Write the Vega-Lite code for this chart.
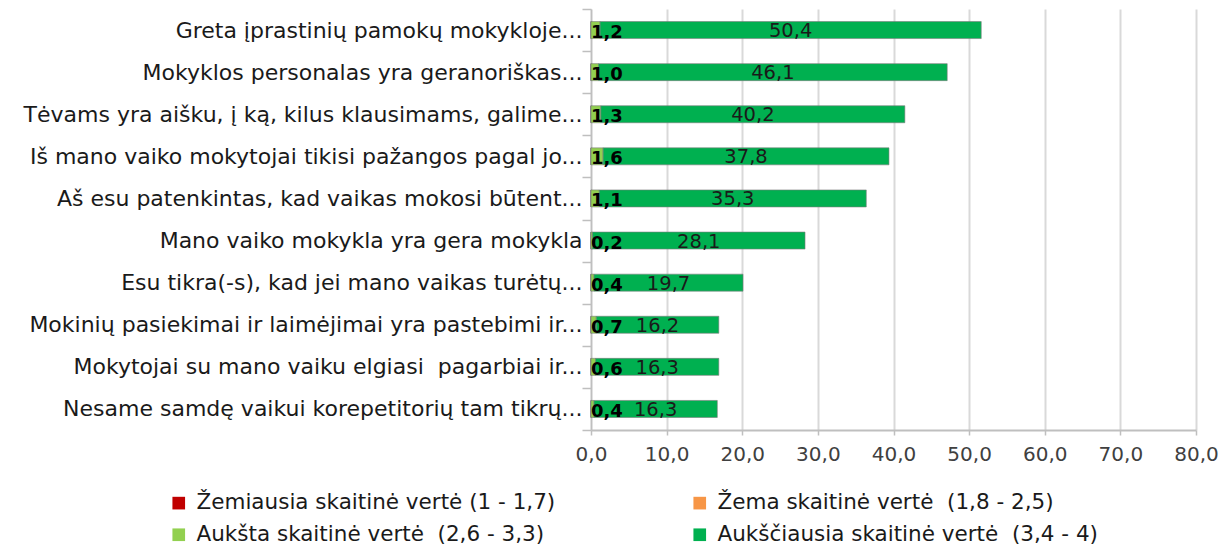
{
  "$schema": "https://vega.github.io/schema/vega-lite/v6.json",
  "width": 605,
  "height": 421,
  "autosize": {"type": "none"},
  "padding": {"left": 591, "top": 9, "right": 27, "bottom": 118},
  "background": "white",
  "data": {"values": [
    {"q": "Greta įprastinių pamokų mokykloje...", "s": "Žemiausia skaitinė vertė (1 - 1,7)", "v": 0},
    {"q": "Greta įprastinių pamokų mokykloje...", "s": "Žema skaitinė vertė\u00a0 (1,8 - 2,5)", "v": 0},
    {"q": "Greta įprastinių pamokų mokykloje...", "s": "Aukšta skaitinė vertė\u00a0 (2,6 - 3,3)", "v": 1.2},
    {"q": "Greta įprastinių pamokų mokykloje...", "s": "Aukščiausia skaitinė vertė\u00a0 (3,4 - 4)", "v": 50.4},
    {"q": "Mokyklos personalas yra geranoriškas...", "s": "Žemiausia skaitinė vertė (1 - 1,7)", "v": 0},
    {"q": "Mokyklos personalas yra geranoriškas...", "s": "Žema skaitinė vertė\u00a0 (1,8 - 2,5)", "v": 0},
    {"q": "Mokyklos personalas yra geranoriškas...", "s": "Aukšta skaitinė vertė\u00a0 (2,6 - 3,3)", "v": 1.0},
    {"q": "Mokyklos personalas yra geranoriškas...", "s": "Aukščiausia skaitinė vertė\u00a0 (3,4 - 4)", "v": 46.1},
    {"q": "Tėvams yra aišku, į ką, kilus klausimams, galime...", "s": "Žemiausia skaitinė vertė (1 - 1,7)", "v": 0},
    {"q": "Tėvams yra aišku, į ką, kilus klausimams, galime...", "s": "Žema skaitinė vertė\u00a0 (1,8 - 2,5)", "v": 0},
    {"q": "Tėvams yra aišku, į ką, kilus klausimams, galime...", "s": "Aukšta skaitinė vertė\u00a0 (2,6 - 3,3)", "v": 1.3},
    {"q": "Tėvams yra aišku, į ką, kilus klausimams, galime...", "s": "Aukščiausia skaitinė vertė\u00a0 (3,4 - 4)", "v": 40.2},
    {"q": "Iš mano vaiko mokytojai tikisi pažangos pagal jo...", "s": "Žemiausia skaitinė vertė (1 - 1,7)", "v": 0},
    {"q": "Iš mano vaiko mokytojai tikisi pažangos pagal jo...", "s": "Žema skaitinė vertė\u00a0 (1,8 - 2,5)", "v": 0},
    {"q": "Iš mano vaiko mokytojai tikisi pažangos pagal jo...", "s": "Aukšta skaitinė vertė\u00a0 (2,6 - 3,3)", "v": 1.6},
    {"q": "Iš mano vaiko mokytojai tikisi pažangos pagal jo...", "s": "Aukščiausia skaitinė vertė\u00a0 (3,4 - 4)", "v": 37.8},
    {"q": "Aš esu patenkintas, kad vaikas mokosi būtent...", "s": "Žemiausia skaitinė vertė (1 - 1,7)", "v": 0},
    {"q": "Aš esu patenkintas, kad vaikas mokosi būtent...", "s": "Žema skaitinė vertė\u00a0 (1,8 - 2,5)", "v": 0},
    {"q": "Aš esu patenkintas, kad vaikas mokosi būtent...", "s": "Aukšta skaitinė vertė\u00a0 (2,6 - 3,3)", "v": 1.1},
    {"q": "Aš esu patenkintas, kad vaikas mokosi būtent...", "s": "Aukščiausia skaitinė vertė\u00a0 (3,4 - 4)", "v": 35.3},
    {"q": "Mano vaiko mokykla yra gera mokykla\u00a0\u00a0\u00a0", "s": "Žemiausia skaitinė vertė (1 - 1,7)", "v": 0},
    {"q": "Mano vaiko mokykla yra gera mokykla\u00a0\u00a0\u00a0", "s": "Žema skaitinė vertė\u00a0 (1,8 - 2,5)", "v": 0},
    {"q": "Mano vaiko mokykla yra gera mokykla\u00a0\u00a0\u00a0", "s": "Aukšta skaitinė vertė\u00a0 (2,6 - 3,3)", "v": 0.2},
    {"q": "Mano vaiko mokykla yra gera mokykla\u00a0\u00a0\u00a0", "s": "Aukščiausia skaitinė vertė\u00a0 (3,4 - 4)", "v": 28.1},
    {"q": "Esu tikra(-s), kad jei mano vaikas turėtų...", "s": "Žemiausia skaitinė vertė (1 - 1,7)", "v": 0},
    {"q": "Esu tikra(-s), kad jei mano vaikas turėtų...", "s": "Žema skaitinė vertė\u00a0 (1,8 - 2,5)", "v": 0},
    {"q": "Esu tikra(-s), kad jei mano vaikas turėtų...", "s": "Aukšta skaitinė vertė\u00a0 (2,6 - 3,3)", "v": 0.4},
    {"q": "Esu tikra(-s), kad jei mano vaikas turėtų...", "s": "Aukščiausia skaitinė vertė\u00a0 (3,4 - 4)", "v": 19.7},
    {"q": "Mokinių pasiekimai ir laimėjimai yra pastebimi ir...", "s": "Žemiausia skaitinė vertė (1 - 1,7)", "v": 0},
    {"q": "Mokinių pasiekimai ir laimėjimai yra pastebimi ir...", "s": "Žema skaitinė vertė\u00a0 (1,8 - 2,5)", "v": 0},
    {"q": "Mokinių pasiekimai ir laimėjimai yra pastebimi ir...", "s": "Aukšta skaitinė vertė\u00a0 (2,6 - 3,3)", "v": 0.7},
    {"q": "Mokinių pasiekimai ir laimėjimai yra pastebimi ir...", "s": "Aukščiausia skaitinė vertė\u00a0 (3,4 - 4)", "v": 16.2},
    {"q": "Mokytojai su mano vaiku elgiasi\u00a0 pagarbiai ir...", "s": "Žemiausia skaitinė vertė (1 - 1,7)", "v": 0},
    {"q": "Mokytojai su mano vaiku elgiasi\u00a0 pagarbiai ir...", "s": "Žema skaitinė vertė\u00a0 (1,8 - 2,5)", "v": 0},
    {"q": "Mokytojai su mano vaiku elgiasi\u00a0 pagarbiai ir...", "s": "Aukšta skaitinė vertė\u00a0 (2,6 - 3,3)", "v": 0.6},
    {"q": "Mokytojai su mano vaiku elgiasi\u00a0 pagarbiai ir...", "s": "Aukščiausia skaitinė vertė\u00a0 (3,4 - 4)", "v": 16.3},
    {"q": "Nesame samdę vaikui korepetitorių tam tikrų...", "s": "Žemiausia skaitinė vertė (1 - 1,7)", "v": 0},
    {"q": "Nesame samdę vaikui korepetitorių tam tikrų...", "s": "Žema skaitinė vertė\u00a0 (1,8 - 2,5)", "v": 0},
    {"q": "Nesame samdę vaikui korepetitorių tam tikrų...", "s": "Aukšta skaitinė vertė\u00a0 (2,6 - 3,3)", "v": 0.4},
    {"q": "Nesame samdę vaikui korepetitorių tam tikrų...", "s": "Aukščiausia skaitinė vertė\u00a0 (3,4 - 4)", "v": 16.3}
  ]},
  "transform": [
    {"calculate": "indexof(['Žemiausia skaitinė vertė (1 - 1,7)','Žema skaitinė vertė\u00a0 (1,8 - 2,5)','Aukšta skaitinė vertė\u00a0 (2,6 - 3,3)','Aukščiausia skaitinė vertė\u00a0 (3,4 - 4)'], datum.s)", "as": "ord"},
    {"stack": "v", "groupby": ["q"], "sort": [{"field": "ord", "order": "ascending"}], "as": ["v0", "v1"]},
    {"calculate": "(datum.v0 + datum.v1) / 2", "as": "mid"},
    {"calculate": "replace(format(datum.v, '.1f'), '.', ',')", "as": "lbl"}
  ],
  "encoding": {
    "y": {
      "field": "q",
      "type": "nominal",
      "sort": null,
      "title": null,
      "scale": {"paddingInner": 0, "paddingOuter": 0},
      "axis": {
        "labelFont": "DejaVu Sans",
        "labelFontSize": 22,
        "labelColor": "#1a1a1a",
        "labelLimit": 600,
        "labelPadding": 0,
        "tickBand": "extent",
        "tickSize": 9,
        "tickColor": "#bfbfbf",
        "tickWidth": 1.5,
        "domainColor": "#bfbfbf",
        "domainWidth": 1.5,
        "grid": false
      }
    }
  },
  "layer": [
    {
      "mark": {"type": "bar", "size": 17, "stroke": "#7a7a7a", "strokeWidth": 0.6},
      "encoding": {
        "x": {
          "field": "v0",
          "type": "quantitative",
          "scale": {"domain": [0, 80]},
          "title": null,
          "axis": {
            "values": [0, 10, 20, 30, 40, 50, 60, 70, 80],
            "labelExpr": "replace(format(datum.value, '.1f'), '.', ',')",
            "labelFlush": false,
            "labelOverlap": false,
            "labelFont": "DejaVu Sans",
            "labelFontSize": 20,
            "labelColor": "#404040",
            "labelPadding": 9,
            "grid": true,
            "gridColor": "#d9d9d9",
            "gridWidth": 2,
            "domainColor": "#bfbfbf",
            "domainWidth": 2,
            "tickColor": "#bfbfbf",
            "tickSize": 5,
            "tickWidth": 1.5
          }
        },
        "x2": {"field": "v1"},
        "color": {
          "field": "s",
          "type": "nominal",
          "scale": {
            "domain": ["Žemiausia skaitinė vertė (1 - 1,7)", "Žema skaitinė vertė\u00a0 (1,8 - 2,5)", "Aukšta skaitinė vertė\u00a0 (2,6 - 3,3)", "Aukščiausia skaitinė vertė\u00a0 (3,4 - 4)"],
            "range": ["#C00000", "#F79646", "#92D050", "#00B050"]
          },
          "legend": {
            "orient": "none",
            "legendX": -423,
            "legendY": 483,
            "direction": "horizontal",
            "columns": 2,
            "columnPadding": 133,
            "rowPadding": 9,
            "title": null,
            "symbolType": "square",
            "symbolSize": 160,
            "symbolStrokeWidth": 0,
            "labelFont": "DejaVu Sans",
            "labelFontSize": 21.5,
            "labelColor": "#1a1a1a",
            "labelLimit": 600,
            "labelOffset": 7
          }
        }
      }
    },
    {
      "transform": [{"filter": "datum.ord == 2"}],
      "mark": {"type": "text", "align": "left", "baseline": "middle", "font": "DejaVu Sans", "fontSize": 18, "fontWeight": "bold", "color": "#000000", "dy": 3},
      "encoding": {
        "x": {"datum": 0, "type": "quantitative"},
        "text": {"field": "lbl"}
      }
    },
    {
      "transform": [{"filter": "datum.ord == 3"}],
      "mark": {"type": "text", "align": "center", "baseline": "middle", "font": "DejaVu Sans", "fontSize": 19.5, "color": "#1a1a1a", "dy": 1},
      "encoding": {
        "x": {"field": "mid", "type": "quantitative"},
        "text": {"field": "lbl"}
      }
    }
  ],
  "config": {"view": {"stroke": null}}
}
